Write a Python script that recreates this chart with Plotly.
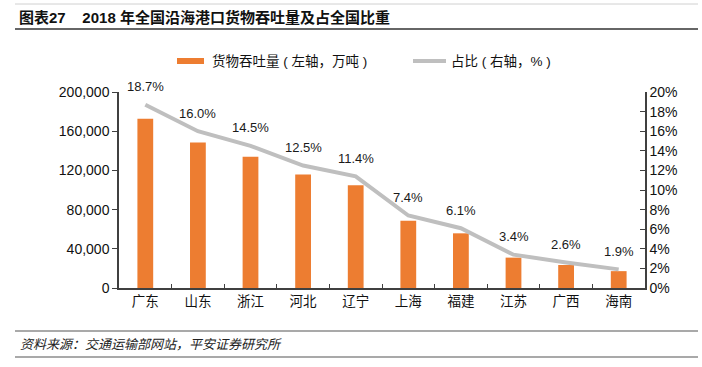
import plotly.graph_objects as go

# ---- data ----
provinces = ["广东", "山东", "浙江", "河北", "辽宁", "上海", "福建", "江苏", "广西", "海南"]
throughput = [172800, 148400, 133900, 115800, 104900, 68500, 55800, 31000, 23500, 17200]  # 万吨
share_pct = [18.7, 16.0, 14.5, 12.5, 11.4, 7.4, 6.1, 3.4, 2.6, 1.9]  # %
left_ticks = [0, 40000, 80000, 120000, 160000, 200000]
right_ticks = [0, 2, 4, 6, 8, 10, 12, 14, 16, 18, 20]
right_ticktext = [f"{v}%" for v in right_ticks]

title_text = "<b>图表27    2018 年全国沿海港口货物吞吐量及占全国比重</b>"
source_text = "<i>资料来源：交通运输部网站，平安证券研究所</i>"
legend_bar = "货物吞吐量 ( 左轴，万吨 )"
legend_line = "占比 ( 右轴，% )"

W, H = 702, 367
L, R, T, B = 119, 645, 92, 288

def px(x):
    return (x - L) / (R - L)

def py(y):
    return (B - y) / (B - T)

FONT = "Liberation Sans, Arial, Noto Sans CJK SC, sans-serif"
ORANGE = "#ED7D31"
GRAY = "#BFBFBF"
AX = "#404040"

fig = go.Figure()
fig.add_trace(go.Bar(x=provinces, y=throughput, marker=dict(color=ORANGE, line=dict(width=0)),
                     name=legend_bar, yaxis="y"))
fig.add_trace(go.Scatter(x=provinces, y=share_pct, mode="lines", line=dict(color=GRAY, width=4),
                         name=legend_line, yaxis="y2"))

annotations = []
for p, s in zip(provinces, share_pct):
    annotations.append(dict(x=p, y=s, xref="x", yref="y2", text=f"{s:.1f}%", showarrow=False,
                            yshift=18, font=dict(size=13, color="#1a1a1a", family=FONT)))

# title, source
annotations.append(dict(x=px(17), y=py(18), xref="paper", yref="paper", text=title_text, showarrow=False,
                        xanchor="left", yanchor="middle", font=dict(size=15, color="#111", family=FONT)))
annotations.append(dict(x=px(18), y=py(344), xref="paper", yref="paper", text=source_text, showarrow=False,
                        xanchor="left", yanchor="middle", font=dict(size=13, color="#222", family=FONT)))
# legend text
annotations.append(dict(x=px(210), y=py(61), xref="paper", yref="paper", text=legend_bar, showarrow=False,
                        xanchor="left", yanchor="middle", font=dict(size=13.5, color="#111", family=FONT)))
annotations.append(dict(x=px(449), y=py(61), xref="paper", yref="paper", text=legend_line, showarrow=False,
                        xanchor="left", yanchor="middle", font=dict(size=13.5, color="#111", family=FONT)))

shapes = [
    # title rule lines
    dict(type="line", xref="paper", yref="paper", x0=px(15), x1=px(698), y0=py(4), y1=py(4),
         line=dict(color="#d0d0d0", width=1)),
    dict(type="line", xref="paper", yref="paper", x0=px(15), x1=px(698), y0=py(29), y1=py(29),
         line=dict(color="#333333", width=1.5)),
    # footer rule lines
    dict(type="line", xref="paper", yref="paper", x0=px(15), x1=px(698), y0=py(331), y1=py(331),
         line=dict(color="#555555", width=1.2)),
    dict(type="line", xref="paper", yref="paper", x0=px(15), x1=px(698), y0=py(357), y1=py(357),
         line=dict(color="#555555", width=1.2)),
    # legend swatches
    dict(type="rect", xref="paper", yref="paper", x0=px(177), x1=px(204), y0=py(64), y1=py(58),
         fillcolor=ORANGE, line=dict(width=0)),
    dict(type="line", xref="paper", yref="paper", x0=px(413), x1=px(446), y0=py(61), y1=py(61),
         line=dict(color=GRAY, width=4)),
]

fig.update_layout(
    width=W, height=H,
    margin=dict(l=L, r=W - R, t=T, b=H - B, autoexpand=False),
    paper_bgcolor="white", plot_bgcolor="white",
    showlegend=False,
    bargap=0.7,
    font=dict(family=FONT, size=14, color="#111"),
    xaxis=dict(type="category", showline=True, linecolor=AX, linewidth=1.5, ticks="inside",
               tickson="boundaries", ticklen=4, tickcolor=AX, tickfont=dict(size=13.5, color="#111"),
               showgrid=False, zeroline=False),
    yaxis=dict(range=[0, 200000], tickvals=left_ticks, tickformat=",d", showline=True, linecolor=AX,
               linewidth=1.5, ticks="outside", ticklen=5, tickcolor=AX, showgrid=False, zeroline=False,
               tickfont=dict(size=14, color="#111")),
    yaxis2=dict(range=[0, 20], tickvals=right_ticks, ticktext=right_ticktext, overlaying="y", side="right",
                showline=True, linecolor=AX, linewidth=1.5, ticks="inside", ticklen=5, tickcolor=AX,
                showgrid=False, zeroline=False, tickfont=dict(size=14, color="#111")),
    annotations=annotations,
    shapes=shapes,
)

fig.write_html("out.html", config={"displayModeBar": False},
               post_script="document.body.style.margin='0';document.body.style.overflow='hidden';")
